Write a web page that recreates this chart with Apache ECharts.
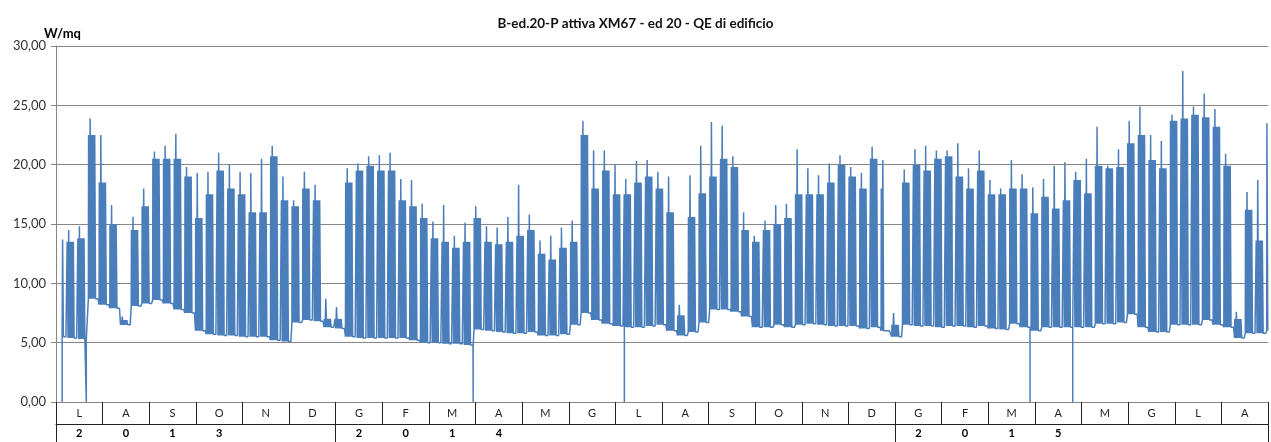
<!DOCTYPE html>
<html><head><meta charset="utf-8">
<script src="https://cdn.jsdelivr.net/npm/echarts@6/dist/echarts.min.js"></script>
<style>html,body{margin:0;padding:0;background:#fff}#c{width:1271px;height:442px}</style>
</head><body><div id="c"></div>
<script>
const chartTitle = 'B-ed.20-P attiva XM67 - ed 20 - QE di edificio';
const unitLabel = 'W/mq';
const monthLabels = ['L','A','S','O','N','D','G','F','M','A','M','G','L','A','S','O','N','D','G','F','M','A','M','G','L','A'];
const yearLabels = ['2','0','1','3','','','2','0','1','4','','','','','','','','','2','0','1','5','','','',''];
const yMin = 0, yMax = 30, yStep = 5;

// Weekly readings, week 0 starts Monday 1 July 2013 (day 0); 792 days to 31 Aug 2015
const totalDays = 792;
const firstDay = 4;
const weekPeak = [
 13.7,14.5,14.8,23.9,22.5,16.6,7.2,15.6,18.0,21.1,
 21.6,22.6,19.8,19.3,19.4,21.0,20.0,19.4,19.3,20.5,
 21.6,19.0,17.0,19.4,18.3,8.7,8.0,19.7,20.1,20.7,
 20.8,21.0,18.8,18.7,16.7,15.2,16.6,14.0,15.1,16.5,
 14.8,14.7,15.6,18.3,15.8,13.6,14.0,14.7,15.3,23.7,
 21.2,21.2,20.0,18.8,20.3,20.4,19.4,19.0,8.2,19.1,
 21.6,23.6,23.3,20.7,16.0,14.0,15.3,16.6,16.7,21.3,
 19.7,19.1,20.1,20.8,19.8,19.3,21.5,20.4,7.5,19.6,
 21.3,21.6,21.2,21.2,21.8,19.7,21.2,18.7,18.0,20.4,
 19.2,18.1,18.8,19.9,20.2,19.4,20.5,23.2,19.9,21.3,
 23.7,24.9,22.5,22.0,24.2,27.9,24.9,26.0,24.7,20.9,
 7.6,17.7,18.7,23.5
];
const weekTop = [
 13.7,13.5,13.8,22.5,18.5,15.0,6.9,14.5,16.5,20.5,
 20.5,20.5,19.0,15.5,17.5,19.5,18.0,17.5,16.0,16.0,
 20.7,17.0,16.5,18.0,17.0,7.0,7.0,18.5,19.5,19.9,
 19.5,19.5,17.0,16.5,15.5,13.8,13.5,13.0,13.5,15.5,
 13.5,13.3,13.5,14.0,14.5,12.5,12.0,13.0,13.5,22.5,
 18.0,19.5,17.5,17.5,18.5,19.0,18.0,16.0,7.3,15.6,
 17.6,19.0,20.5,19.8,14.5,13.5,14.5,15.0,15.5,17.5,
 17.5,17.5,18.5,20.0,19.0,18.0,20.5,18.0,6.5,18.5,
 20.0,19.5,20.5,20.7,19.0,18.0,19.5,17.5,17.5,18.0,
 18.0,15.9,17.3,16.3,17.0,18.7,17.6,19.9,19.7,19.8,
 21.8,22.5,20.4,19.7,23.7,23.9,24.2,24.0,23.2,19.9,
 7.0,16.2,13.6,23.5
];
const weekBase = [
 5.5,5.4,5.3,8.7,8.2,7.9,6.5,8.1,8.3,8.6,
 8.3,7.8,7.5,6.0,5.7,5.6,5.6,5.5,5.5,5.5,
 5.2,5.1,6.7,6.9,6.8,6.3,6.2,5.5,5.4,5.4,
 5.4,5.4,5.4,5.2,5.0,5.0,4.9,4.9,4.8,6.1,
 6.0,5.9,5.8,5.8,5.9,5.6,5.6,5.7,6.5,7.5,
 6.9,6.6,6.4,6.3,6.3,6.4,6.5,6.0,5.6,5.9,
 6.7,7.8,7.8,7.6,7.2,6.3,6.3,6.5,6.3,6.5,
 6.6,6.5,6.4,6.4,6.4,6.2,6.3,6.0,5.5,6.5,
 6.4,6.4,6.3,6.4,6.4,6.3,6.4,6.2,6.1,6.6,
 6.3,6.0,6.3,6.3,6.3,6.3,6.3,6.6,6.6,6.7,
 7.4,6.3,5.9,5.9,6.5,6.5,6.5,6.9,6.5,6.3,
 5.4,5.8,5.8,6.0
];
const shortWeeks = [[77, 2]];          // [week, working days]
const dropDays = [4, 19.8, 272.6, 371.4, 636.5, 664.4]; // readings falling to 0

function workDays(w){ const s = shortWeeks.find(e => e[0] === w); return s ? s[1] : 5; }

const pts = [];
for (let w = 0; w < weekPeak.length; w++) {
  const b = weekBase[w], n = workDays(w);
  for (let k = 0; k < 7; k++) {
    const D = 7 * w + k;
    if (D < firstDay || D >= totalDays) continue;
    if (k < n) {
      const v = (k === 1) ? weekPeak[w] : weekTop[w];
      pts.push([D + 0.15, b], [D + 0.3, v], [D + 0.7, v], [D + 0.85, b]);
    } else {
      pts.push([D + 0.5, b]);
    }
  }
}
dropDays.forEach(d => {
  const b = weekBase[Math.floor(d / 7)];
  pts.push([d, b], [d, 0], [d, b]);
});
pts.sort((a, b) => a[0] - b[0]);

const FONT = 'Lato';
const chart = echarts.init(document.getElementById('c'), null, {renderer: 'canvas'});
chart.setOption({
  animation: false,
  backgroundColor: '#fff',
  title: [
    {text: chartTitle, left: 'center', top: 12, textStyle: {fontFamily: FONT, fontSize: 13.5, fontWeight: 'bold', color: '#111'}},
    {text: unitLabel, left: 39, top: 22, textStyle: {fontFamily: FONT, fontSize: 13, fontWeight: 'bold', color: '#000'}}
  ],
  grid: {left: 56, right: 3, top: 46, bottom: 40, containLabel: false},
  xAxis: [
    {type: 'value', min: 0, max: totalDays, show: false},
    {type: 'category', data: monthLabels, position: 'bottom', offset: 0, boundaryGap: true,
     axisLine: {show: true, lineStyle: {color: '#868686', width: 1}},
     axisTick: {show: true, length: 22, lineStyle: {color: '#222', width: 1}},
     axisLabel: {margin: 6, fontFamily: FONT, fontSize: 11, color: '#222'},
     splitLine: {show: false}},
    {type: 'category', data: yearLabels, position: 'bottom', offset: 22, boundaryGap: true,
     axisLine: {show: true, lineStyle: {color: '#222', width: 1}},
     axisTick: {show: true, length: 18, interval: (i) => i === 0 || i === 6 || i === 18, lineStyle: {color: '#222', width: 1}},
     axisLabel: {margin: 4, interval: 0, fontFamily: FONT, fontSize: 11, fontWeight: 'bold', color: '#000'},
     splitLine: {show: false}}
  ],
  yAxis: [{
    type: 'value', min: yMin, max: yMax, interval: yStep,
    axisLine: {show: true, lineStyle: {color: '#868686'}},
    axisTick: {show: true, length: 5, lineStyle: {color: '#868686'}},
    axisLabel: {margin: 10, fontFamily: FONT, fontSize: 13, color: '#333',
      formatter: v => v.toFixed(2).replace('.', ',')},
    splitLine: {show: true, lineStyle: {color: '#868686', width: 1}}
  }],
  series: [{
    type: 'line', xAxisIndex: 0, yAxisIndex: 0, data: pts,
    showSymbol: false, symbol: 'none',
    lineStyle: {color: '#4a7ebb', width: 1.5}, itemStyle: {color: '#4a7ebb'},
    z: 3
  }]
});
</script></body></html>
